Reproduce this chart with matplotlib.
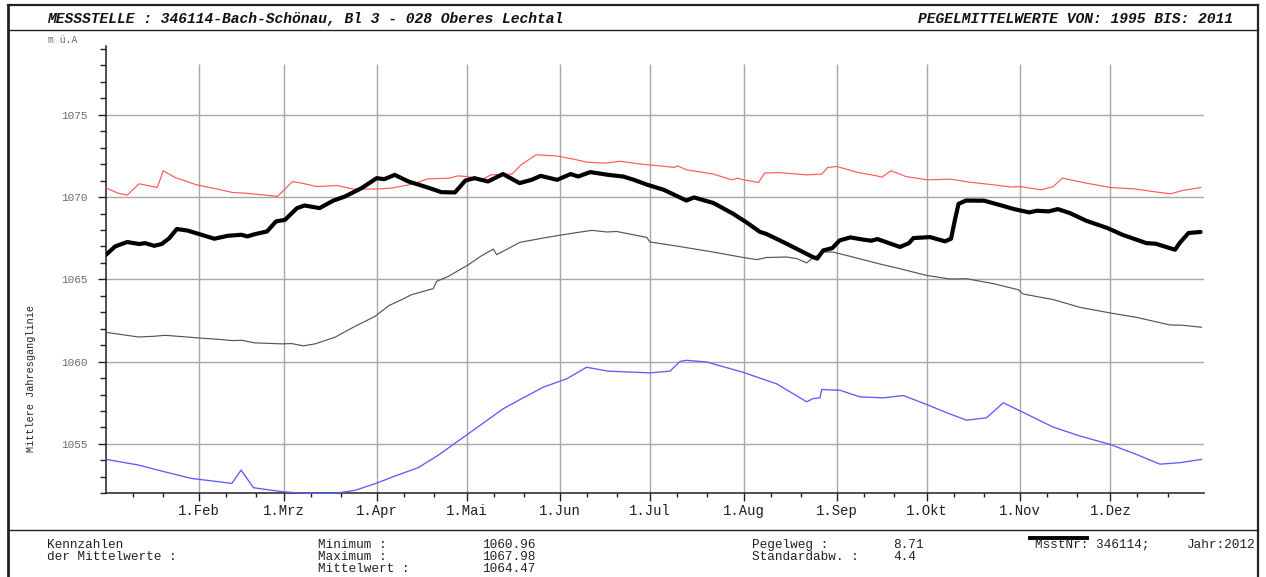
import matplotlib
matplotlib.use("Agg")
import matplotlib.pyplot as plt
from matplotlib.lines import Line2D
from matplotlib.ticker import FixedLocator, NullFormatter

# ---- data: day of year (0 = 1 Jan) and water level in m ü.A ----
max_days = [0, 4, 7, 11, 17, 19, 23, 30, 37, 42, 46, 52, 57, 62, 66, 70, 77, 82, 90, 95,
            102, 107, 114, 117, 120, 125, 128, 135, 138, 143, 150, 155, 160, 166, 171, 178,
            184, 189, 190, 193, 202, 208, 210, 212, 217, 219, 224, 233, 238, 240, 243, 250,
            256, 258, 261, 266, 273, 281, 287, 295, 301, 304, 311, 315, 318, 326, 334, 342,
            348, 354, 358, 364]
max_vals = [1070.55, 1070.24, 1070.12, 1070.81, 1070.58, 1071.6, 1071.19, 1070.75, 1070.49,
            1070.28, 1070.24, 1070.14, 1070.04, 1070.95, 1070.81, 1070.64, 1070.70, 1070.49,
            1070.49, 1070.55, 1070.79, 1071.11, 1071.15, 1071.29, 1071.25, 1071.07, 1071.35,
            1071.4, 1071.96, 1072.57, 1072.5, 1072.32, 1072.12, 1072.06, 1072.18, 1072.0,
            1071.9, 1071.8, 1071.9, 1071.66, 1071.4, 1071.05, 1071.15, 1071.05, 1070.89,
            1071.46, 1071.49, 1071.35, 1071.4, 1071.8, 1071.86, 1071.5, 1071.3, 1071.21,
            1071.6, 1071.25, 1071.05, 1071.09, 1070.91, 1070.75, 1070.61, 1070.64, 1070.44,
            1070.64, 1071.15, 1070.85, 1070.58, 1070.5, 1070.34, 1070.2, 1070.4, 1070.58]

cur_days = [0, 3, 7, 11, 13, 16, 18.5, 21, 23.5, 27, 31, 36, 40.5, 45, 47, 49.5, 53.5, 56.5,
            59.5, 63.5, 66, 71, 75.5, 79.5, 85, 90, 92.5, 96, 100.5, 107, 111.5, 116, 119.5,
            122.5, 127, 132, 137.5, 141.5, 144.5, 150, 154.5, 157, 161, 167, 172, 175.5, 180,
            185.5, 193, 195.5, 202, 208.5, 213, 217.5, 219.5, 226.5, 235, 236.5, 238.5, 241.5,
            244, 247.5, 252, 254.5, 256.5, 264, 267, 268.5, 274, 279, 281, 282.3, 283.5, 286,
            292, 297, 302, 307, 309.5, 313.5, 316.5, 320.5, 326, 333, 338, 346, 349, 355.5,
            357, 360, 364]
cur_vals = [1066.5, 1067.0, 1067.27, 1067.15, 1067.2, 1067.04, 1067.15, 1067.5, 1068.06,
            1067.97, 1067.75, 1067.47, 1067.65, 1067.71, 1067.61, 1067.75, 1067.91, 1068.52,
            1068.62, 1069.33, 1069.49, 1069.33, 1069.78, 1070.04, 1070.55, 1071.15, 1071.09,
            1071.35, 1070.95, 1070.58, 1070.3, 1070.28, 1071.01, 1071.15, 1070.95, 1071.4,
            1070.85, 1071.05, 1071.29, 1071.05, 1071.4, 1071.25, 1071.52, 1071.35, 1071.25,
            1071.05, 1070.75, 1070.44, 1069.79, 1069.98, 1069.64, 1068.99, 1068.46, 1067.88,
            1067.77, 1067.15, 1066.36, 1066.26, 1066.76, 1066.9, 1067.37, 1067.55, 1067.41,
            1067.35, 1067.45, 1066.97, 1067.2, 1067.51, 1067.57, 1067.31, 1067.47, 1068.62,
            1069.59, 1069.79, 1069.78, 1069.53, 1069.27, 1069.07, 1069.17, 1069.13, 1069.27,
            1069.03, 1068.56, 1068.12, 1067.71, 1067.2, 1067.17, 1066.8, 1067.2, 1067.82,
            1067.88]

mean_days = [0, 10.7, 15.7, 19.6, 24, 30.7, 37.3, 41.8, 45.1, 49.5, 58.4, 61.7, 65.6, 69.5,
             76.1, 82.2, 89.4, 94, 98.3, 101.6, 108.8, 109.9, 113.8, 120.5, 124.9, 128.8,
             129.9, 137.6, 146.5, 153.2, 161.5, 166.5, 169.8, 176.5, 179.8, 180.9, 188.6,
             201.9, 211.9, 216.4, 219.7, 226.3, 229.7, 233, 234.7, 238.5, 241.8, 249.6, 257.4,
             264, 272.9, 280.7, 286.2, 295.1, 303.4, 305, 315, 323.9, 333.9, 342.7, 353.8,
             358.2, 364.3]
mean_vals = [1061.78, 1061.5, 1061.54, 1061.6, 1061.54, 1061.44, 1061.36, 1061.28, 1061.3,
             1061.14, 1061.08, 1061.1, 1060.96, 1061.08, 1061.48, 1062.09, 1062.75, 1063.4,
             1063.77, 1064.07, 1064.44, 1064.88, 1065.18, 1065.89, 1066.44, 1066.84, 1066.5,
             1067.25, 1067.55, 1067.75, 1067.98, 1067.88, 1067.91, 1067.67, 1067.55, 1067.27,
             1067.06, 1066.66, 1066.33, 1066.2, 1066.33, 1066.36, 1066.26, 1066.0, 1066.26,
             1066.66, 1066.66, 1066.3, 1065.93, 1065.65, 1065.24, 1065.02, 1065.04, 1064.74,
             1064.37, 1064.11, 1063.77, 1063.3, 1062.96, 1062.69, 1062.23, 1062.21, 1062.09]

min_days = [0, 10.7, 18.5, 28.5, 34, 41.8, 44.9, 49, 58.4, 65, 76.1, 82.8, 89.4, 96.1,
            103.8, 110.5, 119.4, 124.3, 132.1, 138.7, 145.4, 153.2, 159.8, 167, 180.9, 187.5,
            190.9, 193.1, 199.7, 211.9, 223, 233, 235.2, 237.4, 238, 244.1, 250.7, 258.5,
            265.1, 272.9, 279.5, 286.2, 292.8, 298.4, 303.7, 315, 323.9, 333.9, 342.7, 350.5,
            357.1, 364.3]
min_vals = [1054.06, 1053.72, 1053.35, 1052.9, 1052.78, 1052.6, 1053.41, 1052.34, 1052.1,
            1052.01, 1052.0, 1052.18, 1052.58, 1053.05, 1053.56, 1054.32, 1055.48, 1056.12,
            1057.14, 1057.8, 1058.45, 1058.96, 1059.66, 1059.42, 1059.32, 1059.42, 1060.02,
            1060.08, 1059.98, 1059.35, 1058.65, 1057.56, 1057.76, 1057.8, 1058.31, 1058.26,
            1057.86, 1057.8, 1057.94, 1057.4, 1056.9, 1056.44, 1056.59, 1057.5, 1057.03,
            1056.02, 1055.48, 1054.97, 1054.36, 1053.77, 1053.86, 1054.06]

month_starts = [31, 59, 90, 120, 151, 181, 212, 243, 273, 304, 334]
month_labels = ["1.Feb", "1.Mrz", "1.Apr", "1.Mai", "1.Jun", "1.Jul", "1.Aug", "1.Sep",
                "1.Okt", "1.Nov", "1.Dez"]
y_major = [1055, 1060, 1065, 1070, 1075]

stat_names = ["Minimum :", "Maximum :", "Mittelwert :"]
stat_values = ["1060.96", "1067.98", "1064.47"]
extra_names = ["Pegelweg :", "Standardabw. :"]
extra_values = ["8.71", "4.4"]

title_left = "MESSSTELLE : 346114-Bach-Schönau, Bl 3 - 028 Oberes Lechtal"
title_right = "PEGELMITTELWERTE VON: 1995 BIS: 2011"
legend_station = "MsstNr: 346114;"
legend_year = "Jahr:2012"

# ---- figure layout ----
W, H = 1266, 577
fig = plt.figure(figsize=(W / 100, H / 100), dpi=100)
fig.patch.set_facecolor("white")
MONO = "Liberation Mono"


def fx(px):
    return px / W


def fy(py):
    return 1 - py / H


x0, x1, ytop, ybot = 106.1, 1203.6, 45.7, 493.3
ax = fig.add_axes([fx(x0), fy(ybot), fx(x1) - fx(x0), (ybot - ytop) / H])
ax.set_xlim(0, 365)
ax.set_ylim(1052, 1079.2)
for s in ("top", "right"):
    ax.spines[s].set_visible(False)
for s in ("left", "bottom"):
    ax.spines[s].set_linewidth(1.1)
    ax.spines[s].set_color("#202020")

# grid
grid_c = "#a8a8a8"
for yv in y_major:
    ax.axhline(yv, color=grid_c, lw=1.0, zorder=1)
ax.vlines(month_starts, 1052, 1078.1, color=grid_c, lw=1.0, zorder=1)

# series
ax.plot(max_days, max_vals, color="#ff5a5a", lw=0.85, zorder=3)
ax.plot(mean_days, mean_vals, color="#555555", lw=0.85, zorder=3)
ax.plot(min_days, min_vals, color="#5c5cff", lw=0.95, zorder=3, clip_on=False)
ax.plot(cur_days, cur_vals, color="black", lw=3.0, zorder=4,
        solid_joinstyle="round", solid_capstyle="round")

# ticks
minor_x = []
for m0 in [0] + month_starts:
    minor_x += [m0 + 9, m0 + 19]
ax.set_xticks(month_starts)
ax.set_xticklabels(month_labels, fontfamily=MONO, fontsize=10, color="#202020")
ax.xaxis.set_minor_locator(FixedLocator(minor_x))
ax.tick_params(axis="x", which="major", length=6, width=1, color="#202020", pad=2)
ax.tick_params(axis="x", which="minor", length=3, width=1, color="#202020")

ax.set_yticks(y_major)
ax.set_yticklabels([str(v) for v in y_major], fontfamily=MONO, fontsize=8,
                   color="#6a6a78")
ax.yaxis.set_minor_locator(FixedLocator(list(range(1052, 1080))))
ax.yaxis.set_minor_formatter(NullFormatter())
ax.tick_params(axis="y", which="major", length=6, width=1, color="#202020", pad=7)
ax.tick_params(axis="y", which="minor", length=4, width=1, color="#202020")

# frame and separators
frame_kw = dict(color="#222222", transform=fig.transFigure)
fig.add_artist(Line2D([fx(8), fx(8)], [fy(5), fy(577)], lw=2.0, **frame_kw))
fig.add_artist(Line2D([fx(1258), fx(1258)], [fy(5), fy(577)], lw=1.6, **frame_kw))
fig.add_artist(Line2D([fx(8), fx(1258)], [fy(5), fy(5)], lw=1.6, **frame_kw))
fig.add_artist(Line2D([fx(8), fx(1258)], [fy(30), fy(30)], lw=1.0, **frame_kw))
fig.add_artist(Line2D([fx(8), fx(1258)], [fy(530), fy(530)], lw=1.0, **frame_kw))

# header
hdr = dict(fontfamily=MONO, fontsize=10.5, fontweight="bold", fontstyle="italic",
           color="#111111", va="center")
fig.text(fx(47), fy(19), title_left, ha="left", **hdr)
fig.text(fx(1233), fy(19), title_right, ha="right", **hdr)

fig.text(fx(48), fy(40), "m ü.A", fontfamily=MONO, fontsize=7, color="#6a6a78",
         va="center", ha="left")
fig.text(fx(31), fy(378), "Mittlere Jahresganglinie", fontfamily=MONO, fontsize=7.3,
         color="#222222", rotation=90, va="center", ha="center")

# statistics block
txt = dict(fontfamily=MONO, fontsize=9.2, color="#222222", va="center", ha="left")
fig.text(fx(47), fy(545), "Kennzahlen", **txt)
fig.text(fx(47), fy(557), "der Mittelwerte :", **txt)
for i, (n, v) in enumerate(zip(stat_names, stat_values)):
    fig.text(fx(318), fy(545 + 12 * i), n, **txt)
    fig.text(fx(482), fy(545 + 12 * i), v, **txt)
for i, (n, v) in enumerate(zip(extra_names, extra_values)):
    fig.text(fx(752), fy(545 + 12 * i), n, **txt)
    fig.text(fx(893), fy(545 + 12 * i), v, **txt)

# legend entry for the current year
fig.add_artist(Line2D([fx(1030), fx(1087)], [fy(538), fy(538)], lw=2.8, color="black",
                      transform=fig.transFigure))
fig.text(fx(1035), fy(545), legend_station, **txt)
fig.text(fx(1255), fy(545), legend_year, **{**txt, "ha": "right"})

fig.savefig("out.png", dpi=100, facecolor="white")
